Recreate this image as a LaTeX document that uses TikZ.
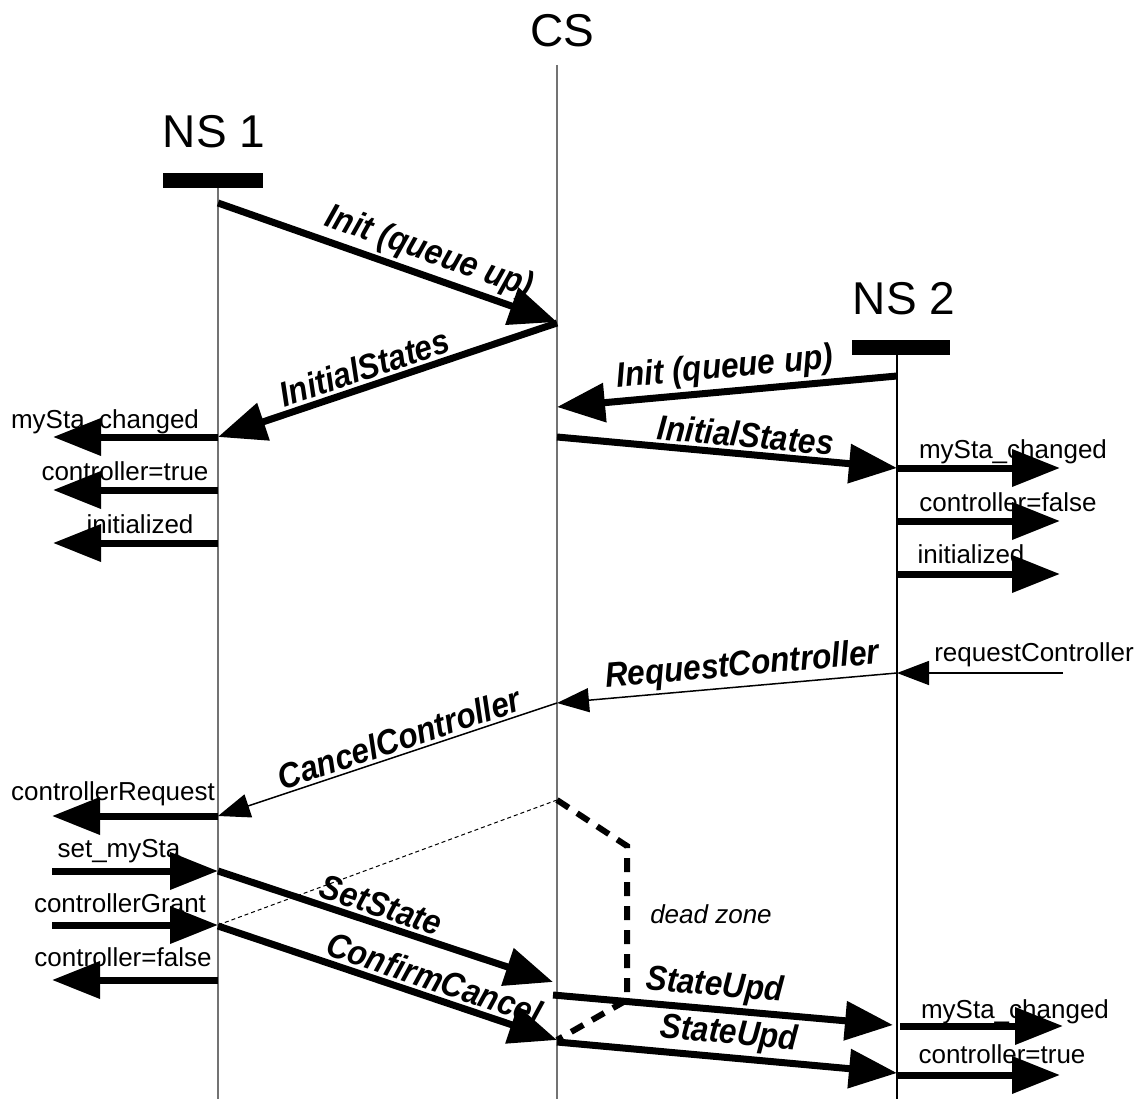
\documentclass[tikz,border=0pt]{standalone}
\usepackage{fontspec}
\setmainfont{Liberation Sans}
\newfontfamily\msgfont[FakeStretch=0.9]{Liberation Sans}
\usetikzlibrary{arrows.meta}
\begin{document}
\begin{tikzpicture}[x=1pt,y=-1pt,
  life/.style={draw=black!55, line width=1.5pt},
  lifeb/.style={draw=black, line width=1.3pt},
  bar/.style={fill=black, minimum width=100pt, minimum height=15pt, inner sep=0pt},
  ttl/.style={font=\fontsize{46}{52}\selectfont, anchor=base, inner sep=0pt},
  big/.style={line width=7pt, -{Triangle[length=48pt,width=38pt]}},
  thin/.style={line width=1.5pt, -{Triangle[length=32pt,width=24pt]}},
  loc/.style={line width=7pt, -{Triangle[length=48pt,width=36pt]}},
  lbl/.style={font=\fontsize{26}{30}\selectfont, anchor=base, inner sep=0pt},
  mlbl/.style={font=\msgfont\fontsize{35}{40}\selectfont\bfseries\itshape, sloped, above=3pt, inner sep=0pt},
  dz/.style={line width=6pt, dash pattern=on 14pt off 10pt},
  dotl/.style={line width=1pt, dash pattern=on 4pt off 3pt}]
\useasboundingbox (0,0) rectangle (1143,1099);

% titles and bars
\node[ttl] (cs) at (562,47) {CS};
\node[ttl] (ns1) at (214,148) {NS 1};
\node[ttl] (ns2) at (904,315) {NS 2};
\node[bar] (bar1) at (213,180.5) {};
\node[bar, minimum width=98pt] (bar2) at (901,347.5) {};

% lifelines
\coordinate (l1t) at (218,188); \coordinate (l1b) at (218,1099);
\coordinate (cst) at (557,65);  \coordinate (csb) at (557,1099);
\coordinate (l2t) at (897,355); \coordinate (l2b) at (897,1099);
\draw[life] (l1t) -- (l1b);
\draw[life] (cst) -- (csb);
\draw[lifeb] (l2t) -- (l2b);

% message end points
\coordinate (a1) at (218,203);  \coordinate (a2) at (557,322);
\coordinate (b1) at (557,323);  \coordinate (b2) at (218,437);
\coordinate (c1) at (897,376);  \coordinate (c2) at (557,407);
\coordinate (d1) at (557,437);  \coordinate (d2) at (897,468);
\coordinate (e1) at (897,673);  \coordinate (e2) at (557,703);
\coordinate (f2) at (218,816);
\coordinate (g1) at (218,871);  \coordinate (g2) at (553,982);
\coordinate (h1) at (218,926);  \coordinate (h2) at (557,1040);
\coordinate (i1) at (553,995);  \coordinate (i2) at (893,1025);
\coordinate (j1) at (557,1042); \coordinate (j2) at (897,1073);

% main messages
\draw[big] (a1) -- node[mlbl, pos=0.6] {Init (queue up)} (a2);
\draw[big] (b1) -- node[mlbl, pos=0.55] {InitialStates} (b2);
\draw[big] (c1) -- node[mlbl, pos=0.5] {Init (queue up)} (c2);
\draw[big] (d1) -- node[mlbl, pos=0.55] {InitialStates} (d2);
\draw[thin] (e1) -- node[mlbl, pos=0.45] {RequestController} (e2);
\draw[thin] (e2) -- node[mlbl, pos=0.45] {CancelController} (f2);
\draw[big] (g1) -- node[mlbl, pos=0.47] {SetState} (g2);
\draw[big] (h1) -- node[mlbl, pos=0.62] {ConfirmCancel} (h2);
\draw[big] (i1) -- node[mlbl, pos=0.47] {StateUpd} (i2);
\draw[big] (j1) -- node[mlbl, pos=0.5] {StateUpd} (j2);

% NS1 local events
\coordinate (p1) at (53,437);  \coordinate (p2) at (53,490);  \coordinate (p3) at (53,543);
\coordinate (q1) at (218,490); \coordinate (q2) at (218,543);
\draw[loc] (b2) -- (p1);
\draw[loc] (q1) -- (p2);
\draw[loc] (q2) -- (p3);
\node[lbl] (t1) at (105,428) {mySta\_changed};
\node[lbl] (t2) at (125,480) {controller=true};
\node[lbl] (t3) at (140,533) {initialized};

% NS2 local events
\coordinate (r1) at (1060,468); \coordinate (r2) at (1060,521); \coordinate (r3) at (1060,574);
\coordinate (s2) at (897,521);  \coordinate (s3) at (897,574);
\draw[loc] (d2) -- (r1);
\draw[loc] (s2) -- (r2);
\draw[loc] (s3) -- (r3);
\node[lbl] (u1) at (1013,458) {mySta\_changed};
\node[lbl] (u2) at (1008,511) {controller=false};
\node[lbl] (u3) at (971,563) {initialized};

% request controller
\coordinate (rc) at (1063,673);
\draw[thin] (rc) -- (e1);
\node[lbl] (u4) at (1034,661) {requestController};

% NS1 lower events
\coordinate (v1) at (52,816); \coordinate (v2) at (52,871); \coordinate (v3) at (52,925); \coordinate (v4) at (52,980);
\coordinate (w4) at (218,980); \coordinate (w3) at (218,925);
\draw[loc] (f2) -- (v1);
\draw[loc] (v2) -- (g1);
\draw[loc] (v3) -- (w3);
\draw[loc] (w4) -- (v4);
\node[lbl] (t4) at (113,800) {controllerRequest};
\node[lbl] (t5) at (119,857) {set\_mySta};
\node[lbl] (t6) at (120,912) {controllerGrant};
\node[lbl] (t7) at (123,966) {controller=false};

% NS2 lower events
\coordinate (x1) at (900,1026); \coordinate (x2) at (1063,1026);
\coordinate (y2) at (1060,1075); \coordinate (y1) at (897,1075);
\draw[loc] (x1) -- (x2);
\draw[loc] (y1) -- (y2);
\node[lbl] (u5) at (1015,1018) {mySta\_changed};
\node[lbl] (u6) at (1002,1063) {controller=true};

% dead zone
\coordinate (z0) at (557,800); \coordinate (z1) at (627,846);
\coordinate (z2) at (627,1000); \coordinate (z3) at (557,1040);
\draw[dotl] (z0) -- (w3);
\draw[dz] (z0) -- (z1) -- (z2) -- (z3);
\node[lbl, font=\fontsize{26}{30}\selectfont\itshape] (dzl) at (711,923) {dead zone};
\end{tikzpicture}
\end{document}
